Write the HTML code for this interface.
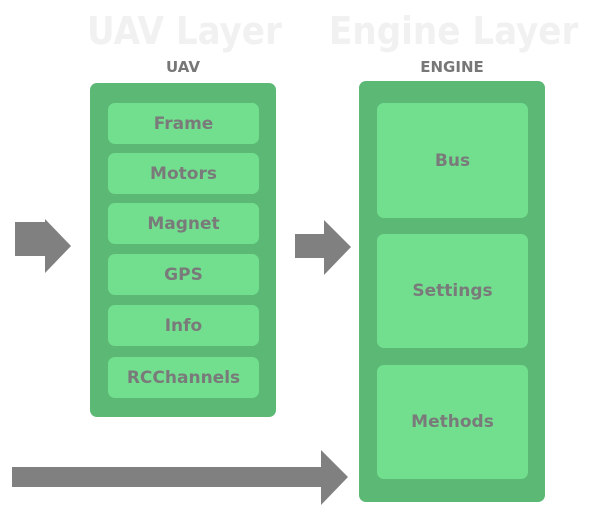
<!DOCTYPE html>
<html><head><meta charset="utf-8"><style>
body{margin:0;width:600px;height:524px;background:#fff;position:relative;overflow:hidden;font-family:"DejaVu Sans","Liberation Sans",sans-serif;font-weight:bold}
div{position:absolute;box-sizing:border-box}
.t{color:#f1f1f1;font-size:38px;top:8px;line-height:46px;white-space:nowrap;font-family:"DejaVu Sans Condensed","DejaVu Sans",sans-serif}
.lbl{color:#777;font-size:15px;top:57px;line-height:20px;text-align:center}
.o{background:#5cb975;border-radius:7px}
.i{background:#72df8f;border-radius:7px;color:#7a7a7a;font-size:17px;display:flex;align-items:center;justify-content:center}
</style></head><body>
<div class="t" style="left:87px">UAV Layer</div>
<div class="t" style="left:329px">Engine Layer</div>
<div class="lbl" style="left:90px;width:186px">UAV</div>
<div class="lbl" style="left:359px;width:186px">ENGINE</div>
<div class="o" style="left:90px;top:83px;width:186px;height:334px"></div>
<div class="i" style="left:108px;top:103px;width:151px;height:41px">Frame</div>
<div class="i" style="left:108px;top:153px;width:151px;height:41px">Motors</div>
<div class="i" style="left:108px;top:203px;width:151px;height:41px">Magnet</div>
<div class="i" style="left:108px;top:254px;width:151px;height:41px">GPS</div>
<div class="i" style="left:108px;top:305px;width:151px;height:41px">Info</div>
<div class="i" style="left:108px;top:357px;width:151px;height:41px">RCChannels</div>
<div class="o" style="left:359px;top:81px;width:186px;height:421px"></div>
<div class="i" style="left:377px;top:103px;width:151px;height:115px">Bus</div>
<div class="i" style="left:377px;top:234px;width:151px;height:114px">Settings</div>
<div class="i" style="left:377px;top:365px;width:151px;height:114px">Methods</div>
<svg width="600" height="524" style="position:absolute;left:0;top:0">
<g fill="#808080">
<polygon points="15,222 45,222 45,219 71,246 45,273 45,256 15,256"/>
<polygon points="295,234 324,234 324,220 351,247 324,275 324,258 295,258"/>
<polygon points="12,467 321,467 321,450 348,477 321,505 321,487 12,487"/>
</g></svg>
</body></html>
